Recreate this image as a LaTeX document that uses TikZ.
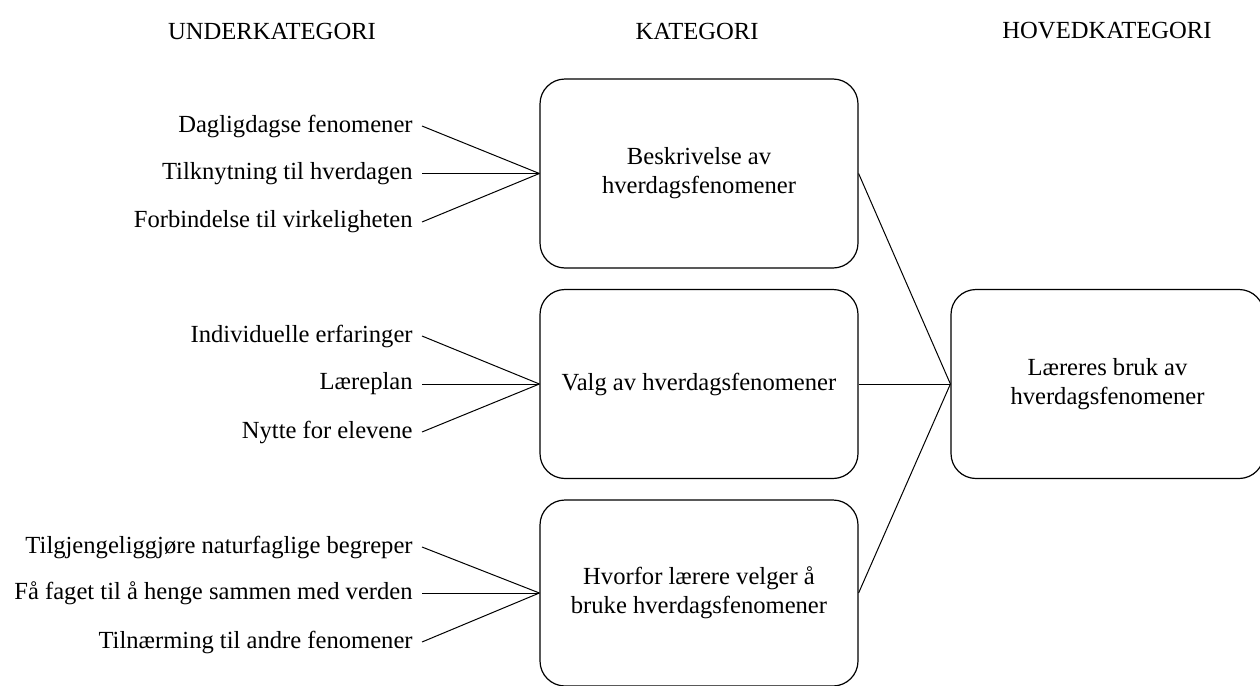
\documentclass[tikz,border=0pt]{standalone}
\usepackage{fontspec}
\setmainfont{Liberation Serif}
\begin{document}
\begin{tikzpicture}[x=0.5pt,y=-0.5pt,
  every node/.style={font=\fontsize{12.3}{14.5}\selectfont, inner sep=0pt},
  catbox/.style={draw, rounded corners=12.5pt, line width=0.6pt, align=center, minimum width=159pt, minimum height=94.5pt},
  sublabel/.style={anchor=east},
  head/.style={anchor=center},
  conn/.style={line width=0.5pt}]
\useasboundingbox (0,0) rectangle (1260,686);
% headers
\node[head] (h1) at (272,31) {UNDERKATEGORI};
\node[head] (h2) at (697,31) {KATEGORI};
\node[head] (h3) at (1107,31) {HOVEDKATEGORI};
% category boxes
\node[catbox] (b1) at (699,173.5) {Beskrivelse av\\hverdagsfenomener};
\node[catbox] (b2) at (699,384) {Valg av hverdagsfenomener};
\node[catbox, minimum height=93pt] (b3) at (699,593) {Hvorfor lærere velger å\\bruke hverdagsfenomener};
\node[catbox, minimum width=156.5pt] (b4) at (1107.5,384) {Læreres bruk av\\hverdagsfenomener};
% sub labels
\node[sublabel] (s1) at (413,126) {Dagligdagse fenomener};
\node[sublabel] (s2) at (413,173.5) {Tilknytning til hverdagen};
\node[sublabel] (s3) at (413,222) {Forbindelse til virkeligheten};
\node[sublabel] (s4) at (413,336) {Individuelle erfaringer};
\node[sublabel] (s5) at (413,384) {Læreplan};
\node[sublabel] (s6) at (413,432) {Nytte for elevene};
\node[sublabel] (s7) at (413,547) {Tilgjengeliggjøre naturfaglige begreper};
\node[sublabel] (s8) at (413,593) {Få faget til å henge sammen med verden};
\node[sublabel] (s9) at (413,642) {Tilnærming til andre fenomener};
% connectors left
\foreach \s/\b in {s1/b1,s2/b1,s3/b1,s4/b2,s5/b2,s6/b2,s7/b3,s8/b3,s9/b3}
  \draw[conn] ([xshift=4.5pt]\s.east) -- (\b.west);
% connectors right
\foreach \b in {b1,b2,b3}
  \draw[conn] (\b.east) -- (b4.west);
\end{tikzpicture}
\end{document}
